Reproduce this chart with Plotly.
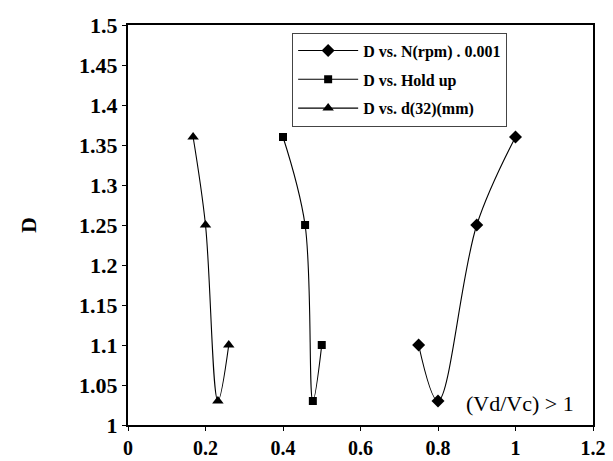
import plotly.graph_objects as go

# Shared dependent variable D
d_values = [1.10, 1.03, 1.25, 1.36]

# Independent variables for each series
n_rpm_scaled = [0.75, 0.80, 0.90, 1.00]
hold_up = [0.50, 0.477, 0.457, 0.40]
d32_mm = [0.26, 0.232, 0.20, 0.168]

series_names = ["D vs. N(rpm) . 0.001", "D vs. Hold up", "D vs. d(32)(mm)"]
x_ticks = [0, 0.2, 0.4, 0.6, 0.8, 1, 1.2]
y_ticks = [1, 1.05, 1.1, 1.15, 1.2, 1.25, 1.3, 1.35, 1.4, 1.45, 1.5]

serif = "Liberation Serif, Times New Roman, serif"

fig = go.Figure()
for i, (xs, sym, size) in enumerate([
    (n_rpm_scaled, "diamond", 10),
    (hold_up, "square", 8),
    (d32_mm, "triangle-up", 10),
]):
    fig.add_trace(go.Scatter(
        x=xs, y=d_values, name=series_names[i],
        mode="lines+markers",
        line=dict(color="black", width=1.1, shape="spline", smoothing=1),
        marker=dict(symbol=sym, size=size, color="black"),
        legendgroup=f"g{i}",
    ))

fig.add_annotation(
    x=1.157, y=1.027, xref="x", yref="y", xanchor="right", yanchor="middle",
    text="(Vd/Vc) > 1", showarrow=False,
    font=dict(family=serif, size=22, color="black"),
)

fig.update_layout(
    width=613, height=461,
    margin=dict(l=128, r=20, t=25, b=36),
    paper_bgcolor="white", plot_bgcolor="white",
    font=dict(family=serif, color="black"),
    showlegend=True,
    legend=dict(
        x=0.353, y=0.981, xanchor="left", yanchor="top",
        bgcolor="white", bordercolor="#444", borderwidth=1,
        font=dict(family=serif, size=16, color="black", weight="bold"),
        traceorder="grouped", tracegroupgap=5,
        itemwidth=60,
    ),
)
fig.update_xaxes(
    range=[0, 1.2], tickvals=x_ticks, automargin=False,
    ticks="outside", ticklen=4, tickwidth=1, tickcolor="black",
    showline=True, linecolor="black", linewidth=2, mirror=True,
    showgrid=False, zeroline=False,
    tickfont=dict(family=serif, size=20, color="black", weight="bold"),
)
fig.update_yaxes(
    range=[1, 1.5], tickvals=y_ticks, automargin=False,
    ticks="outside", ticklen=4, tickwidth=1, tickcolor="black",
    showline=True, linecolor="black", linewidth=2, mirror=True,
    showgrid=False, zeroline=False,
    tickfont=dict(family=serif, size=22, color="black", weight="bold"),
    title=dict(text="D", font=dict(family=serif, size=22, color="black", weight="bold"), standoff=36),
)

fig.write_html("out.html")
